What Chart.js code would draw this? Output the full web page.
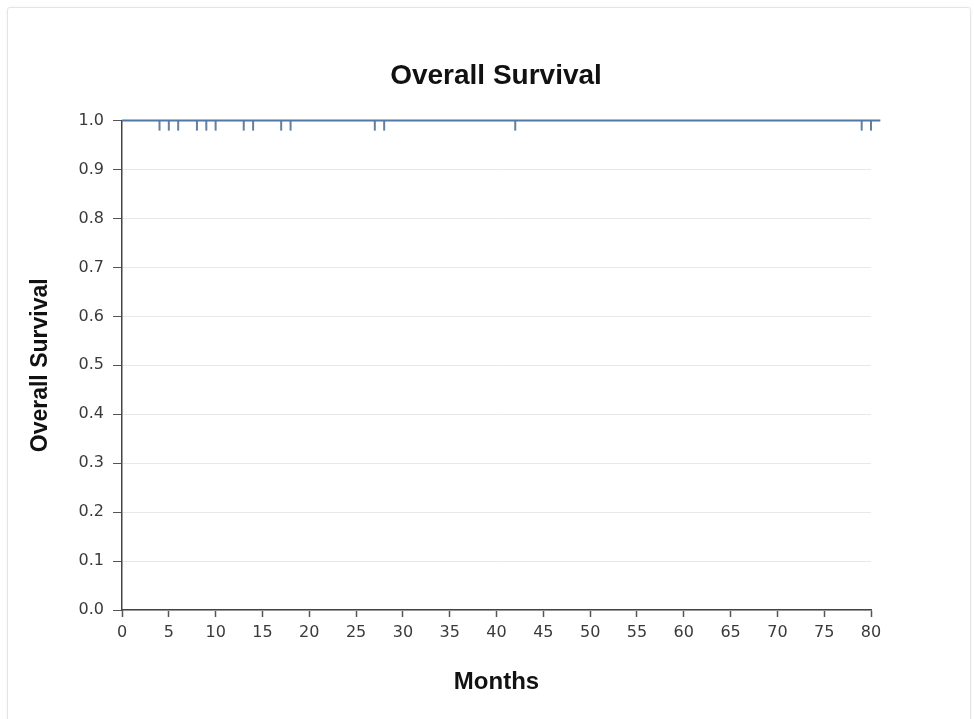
<!DOCTYPE html>
<html>
<head>
<meta charset="utf-8">
<script src="https://cdn.jsdelivr.net/npm/chart.js@4"></script>
<style>
    body { margin: 0; background: #fff; }
    #wrap { position: relative; width: 974px; height: 719px; }
    #frame {
        position: absolute; left: 7px; top: 7px; width: 962px; height: 720px;
        border: 1px solid #e4e4e4; border-radius: 3px; box-shadow: 0 0 3px rgba(0,0,0,0.06);
    }
    #chart { position: absolute; left: 0; top: 0; }
</style>
</head>
<body>
<div id="wrap">
    <div id="frame"></div>
    <canvas id="chart" width="974" height="719"></canvas>
</div>
<script>
// Kaplan-Meier step curve (months, survival)
const survivalMonths = [0, 81];
const survivalValues = [1.0, 1.0];

// censored patients
const censorMonths = [4, 5, 6, 8, 9, 10, 13, 14, 17, 18, 27, 28, 42, 79, 80];
const censorValues = [1.0, 1.0, 1.0, 1.0, 1.0, 1.0, 1.0, 1.0, 1.0, 1.0, 1.0, 1.0, 1.0, 1.0, 1.0];

const xTicks = [0, 5, 10, 15, 20, 25, 30, 35, 40, 45, 50, 55, 60, 65, 70, 75, 80];

// censor tick: a short vertical line hanging below the point
function censorMark() {
    const c = document.createElement('canvas');
    c.width = 4;
    c.height = 22;
    const g = c.getContext('2d');
    g.strokeStyle = '#3e5f86';
    g.lineWidth = 1.6;
    g.beginPath();
    g.moveTo(2, 11);
    g.lineTo(2, 21);
    g.stroke();
    return c;
}

const ctx = document.getElementById('chart').getContext('2d');
new Chart(ctx, {
    type: 'scatter',
    data: {
        datasets: [
            {
                label: 'Survival',
                data: survivalMonths.map((m, i) => ({ x: m, y: survivalValues[i] })),
                showLine: true,
                stepped: 'after',
                borderColor: '#4f79a8',
                borderWidth: 2,
                pointRadius: 0,
                clip: false
            },
            {
                label: 'Censored',
                data: censorMonths.map((m, i) => ({ x: m, y: censorValues[i] })),
                pointStyle: censorMark(),
                pointRadius: 5,
                clip: false
            }
        ]
    },
    options: {
        responsive: false,
        animation: false,
        layout: { padding: { left: 20, right: 2, top: 20, bottom: 14 } },
        plugins: {
            legend: { display: false },
            tooltip: { enabled: false },
            title: {
                display: true,
                text: 'Overall Survival',
                color: '#111',
                font: { family: 'Liberation Sans', size: 28, weight: 'bold' },
                padding: { top: 39, bottom: 28 }
            }
        },
        scales: {
            x: {
                type: 'linear',
                min: 0,
                max: 80,
                afterBuildTicks: axis => { axis.ticks = xTicks.map(v => ({ value: v })); },
                afterFit: axis => { axis.height = 95; },
                grid: { drawOnChartArea: false, tickLength: 7, tickColor: '#555', tickWidth: 1.5 },
                border: { color: '#444', width: 1.5 },
                ticks: {
                    color: '#3a3a3a',
                    padding: 6,
                    maxRotation: 0,
                    font: { family: 'DejaVu Sans', size: 16 }
                },
                title: {
                    display: true,
                    text: 'Months',
                    color: '#111',
                    font: { family: 'Liberation Sans', size: 24, weight: 'bold' },
                    padding: { top: 20, bottom: 8 }
                }
            },
            y: {
                min: 0,
                max: 1,
                afterFit: axis => { axis.width = 102; },
                grid: { color: '#e8e8e8', lineWidth: 1, tickLength: 9, tickColor: '#555' },
                border: { color: '#444', width: 1.5 },
                ticks: {
                    stepSize: 0.1,
                    color: '#3a3a3a',
                    padding: 9,
                    font: { family: 'DejaVu Sans', size: 16 },
                    callback: v => v.toFixed(1)
                },
                title: {
                    display: true,
                    text: 'Overall Survival',
                    color: '#111',
                    font: { family: 'Liberation Sans', size: 23, weight: 'bold' },
                    padding: { top: 7, bottom: 0 }
                }
            },
            // empty right-hand margin so the main title centres over the plot
            yPad: {
                type: 'linear',
                position: 'right',
                afterFit: axis => { axis.width = 101; },
                grid: { drawOnChartArea: false, drawTicks: false },
                border: { display: false },
                ticks: { display: false }
            }
        }
    }
});
</script>
</body>
</html>
